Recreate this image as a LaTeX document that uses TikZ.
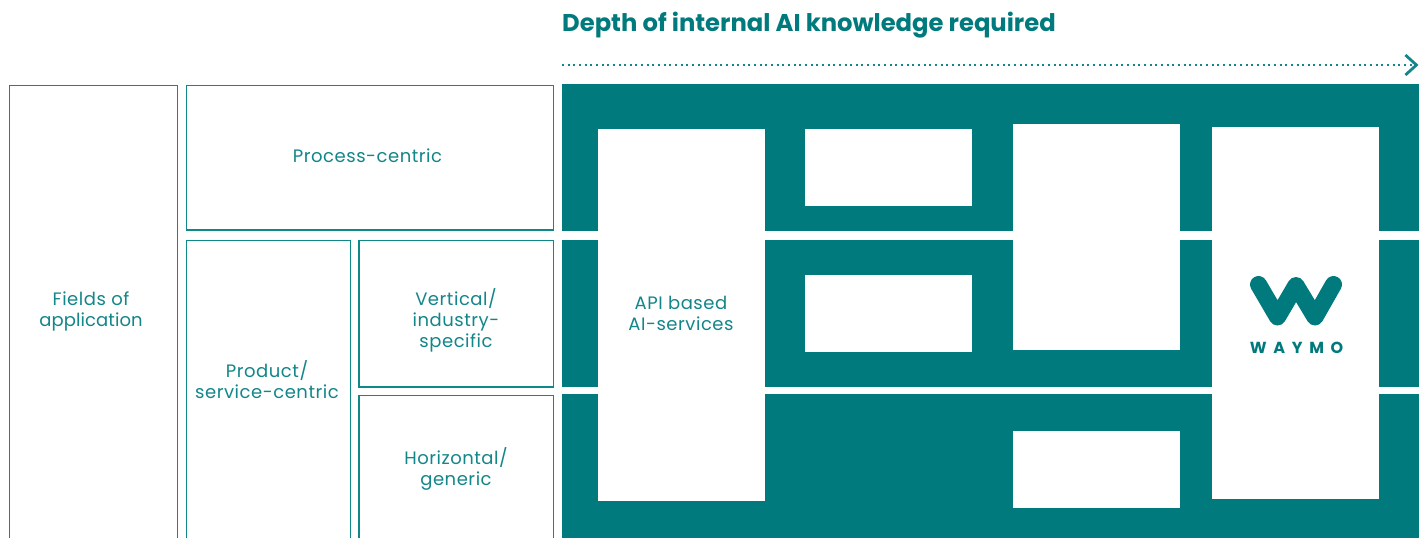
\documentclass[tikz,border=0pt]{standalone}
\usepackage{fontspec}
\setmainfont{Poppins}
\usetikzlibrary{arrows.meta}
\definecolor{teal}{HTML}{007A7C}
\definecolor{labelteal}{HTML}{138689}
\definecolor{edgeteal}{HTML}{0F888A}
\tikzset{
  x=1pt,y=-1pt,
  outlinebox/.style={draw=edgeteal,line width=1.9pt,fill=white},
  whitebox/.style={fill=white,draw=none},
  band/.style={fill=teal,draw=none},
  lbl/.style={text=labelteal,align=center,font=\fontsize{18}{21}\selectfont\addfontfeature{LetterSpace=3}},
}
\begin{document}
\begin{tikzpicture}
\useasboundingbox (0,0) rectangle (1427,538);
\clip (0,0) rectangle (1427,538);
% teal bands
\fill[band] (562,84) rectangle (1419,231);
\fill[band] (562,240) rectangle (1419,387);
\fill[band] (562,394) rectangle (1419,538);
% outline boxes
\draw[outlinebox] (9.5,85.5) rectangle (177.5,560);
\draw[outlinebox] (186.5,85.5) rectangle (553.5,230);
\draw[outlinebox] (186.5,240.5) rectangle (350.5,560);
\draw[outlinebox] (359,240.5) rectangle (553.5,387);
\draw[outlinebox] (359,395.5) rectangle (553.5,560);
\node[lbl] (fields) at (91,311) {Fields of\\\addfontfeature{LetterSpace=0.5}application};
\node[lbl] (process) at (367.5,155.5) {Process-centric};
\node[lbl] (product) at (267,380) {Product/\\service-centric};
\node[lbl] (vertical) at (456,320.5) {Vertical/\\industry-\\specific};
\node[lbl] (horizontal) at (456,468.5) {Horizontal/\\generic};
% white boxes
\fill[whitebox] (598,129) rectangle (765,501);
\fill[whitebox] (805,129) rectangle (972,206);
\fill[whitebox] (805,275) rectangle (972,352);
\fill[whitebox] (1013,124) rectangle (1180,350);
\fill[whitebox] (1013,431) rectangle (1180,508);
\fill[whitebox] (1212,127) rectangle (1379,499);
\node[lbl] (api) at (681,313.5) {API based\\AI-services};
% Waymo logo
\draw[teal,line width=17pt,line cap=round,line join=round]
  (1258.5,284.5) -- (1277.5,317) -- (1296,285.5) -- (1315,317) -- (1333.5,284.5);
\node[text=teal,font=\bfseries\fontsize{16}{17}\selectfont\addfontfeature{LetterSpace=42}] (waymo) at (1296.5,347.5) {WAYMO};
% title and arrow
\node[anchor=west,inner sep=0pt,text=teal,font=\bfseries\fontsize{24.25}{28}\selectfont] (title) at (562,25.5) {Depth of internal AI knowledge required};
\coordinate (arrowstart) at (562,65);
\coordinate (arrowend) at (1418.5,65);
\draw[draw=labelteal,line width=2pt,dash pattern=on 2pt off 3.65pt,-{Straight Barb[length=11pt,width=20pt,line width=2.8pt]}] (arrowstart) -- (arrowend);
\end{tikzpicture}
\end{document}
